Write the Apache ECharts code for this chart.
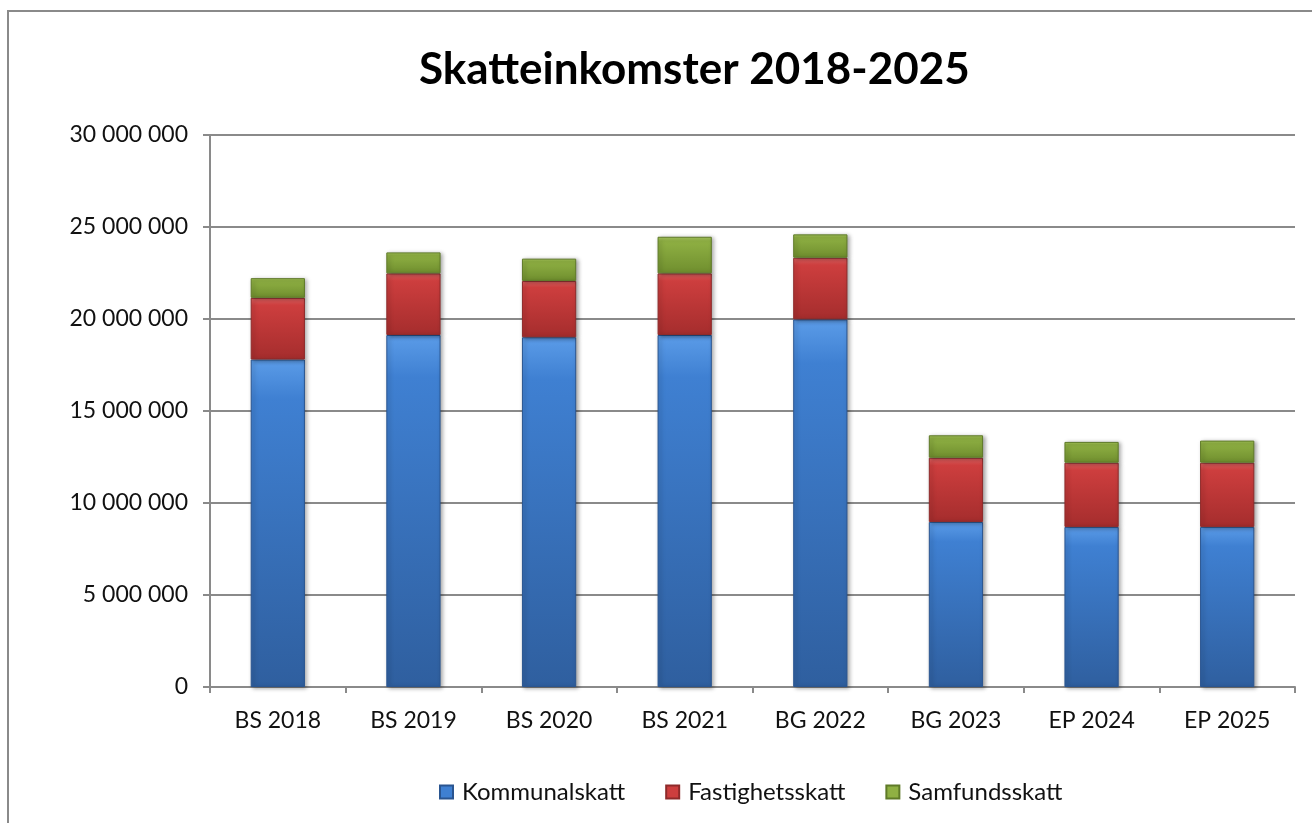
<!DOCTYPE html>
<html>
<head>
<meta charset="utf-8">
<script src="https://cdn.jsdelivr.net/npm/echarts@6/dist/echarts.min.js"></script>
<style>
html,body{margin:0;padding:0;background:#fff;}
#chart{width:1312px;height:823px;}
</style>
</head>
<body>
<div id="chart"></div>
<script>
const categories = ['BS 2018','BS 2019','BS 2020','BS 2021','BG 2022','BG 2023','EP 2024','EP 2025'];
const kommunalskatt = [17800000, 19130000, 19010000, 19130000, 19980000, 8970000, 8700000, 8700000];
const fastighetsskatt = [3350000, 3350000, 3060000, 3350000, 3350000, 3490000, 3490000, 3490000];
const samfundsskatt = [1070000, 1140000, 1210000, 1990000, 1270000, 1220000, 1130000, 1200000];
const seriesNames = ['Kommunalskatt','Fastighetsskatt','Samfundsskatt'];
const titleText = 'Skatteinkomster 2018-2025';

const FONT = 'Lato';
function fmt(v){ return String(v).replace(/\B(?=(\d{3})+(?!\d))/g, ' '); }
function grad(top, mid, bot){
  return new echarts.graphic.LinearGradient(0,0,0,1,[
    {offset:0,color:top},{offset:0.12,color:mid},{offset:1,color:bot}
  ]);
}
const styles = [
  {color: grad('#5b9ce8','#3f80d2','#2f5f9f'), borderColor:'#2a5590'},
  {color: grad('#e46464','#cd3e3e','#a52d2d'), borderColor:'#8e2a2a'},
  {color: grad('#aacb60','#8fb043','#6f8e2e'), borderColor:'#5f7a28'}
];
const dataSets = [kommunalskatt, fastighetsskatt, samfundsskatt];

const chart = echarts.init(document.getElementById('chart'), null, {renderer:'canvas'});
chart.setOption({
  animation:false,
  backgroundColor:'#fff',
  graphic:[{type:'rect', shape:{x:8,y:11,width:1330,height:840}, style:{fill:'none', stroke:'#8a8a8a', lineWidth:2}, z:-1}],
  title:{text:titleText, left:414, top:43, textStyle:{fontFamily:FONT, fontWeight:'bold', fontSize:44, color:'#000'}},
  legend:{
    bottom:14, left:434, icon:'rect', itemWidth:13, itemHeight:13, itemGap:40,
    textStyle:{fontFamily:FONT, fontSize:24, color:'#111', padding:[0,0,0,4]},
    data: seriesNames.map((n,i)=>({name:n, itemStyle:{color:['#3f80d2','#cd3e3e','#8fb043'][i]}}))
  },
  grid:{left:210, right:17, top:135, bottom:136, containLabel:false},
  xAxis:{
    type:'category', data:categories,
    axisLine:{lineStyle:{color:'#8a8a8a', width:2}},
    axisTick:{show:true, length:6, lineStyle:{color:'#8a8a8a', width:2}},
    axisLabel:{fontFamily:FONT, fontSize:23, color:'#111', margin:22}
  },
  yAxis:{
    type:'value', min:0, max:30000000, interval:5000000,
    axisLine:{show:true, lineStyle:{color:'#8a8a8a', width:2}},
    axisTick:{show:true, length:7, lineStyle:{color:'#8a8a8a', width:2}},
    splitLine:{lineStyle:{color:'#8a8a8a', width:2}},
    axisLabel:{fontFamily:FONT, fontSize:23, color:'#111', margin:22, formatter:fmt}
  },
  series: seriesNames.map((n,i)=>({
    name:n, type:'bar', stack:'total', barWidth:'40%',
    data:dataSets[i],
    itemStyle:{color:styles[i].color, borderColor:styles[i].borderColor, borderWidth:1,
      shadowBlur:4, shadowColor:'rgba(0,0,0,0.35)', shadowOffsetX:2, shadowOffsetY:1}
  }))
});
</script>
</body>
</html>
